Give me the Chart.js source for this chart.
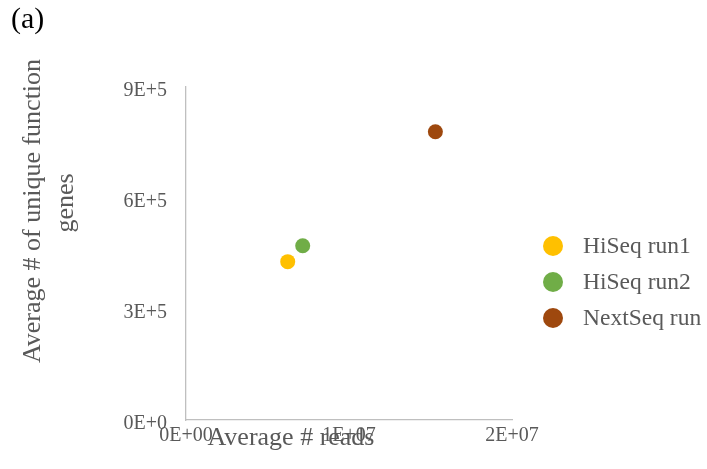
<!DOCTYPE html>
<html>
<head>
<meta charset="utf-8">
<script src="https://cdn.jsdelivr.net/npm/chart.js@4/dist/chart.umd.min.js"></script>
<style>
  html, body { margin: 0; padding: 0; background: #ffffff; }
  #wrap { width: 707px; height: 469px; position: relative; }
</style>
</head>
<body>
<div id="wrap"><canvas id="c" width="707" height="469"></canvas></div>
<script>
// Sequencing runs and their averages (reads, unique function genes)
const seriesNames = ['HiSeq run1', 'HiSeq run2', 'NextSeq run'];
const seriesColors = ['#FFC000', '#70AD47', '#9E480E'];
const avgReads = [6.24e6, 7.16e6, 1.53e7];
const avgUniqueGenes = [4.28e5, 4.71e5, 7.79e5];

// Axis tick values and their labels
const xTickValues = [0, 1e7, 2e7];
const xTickLabels = ['0E+00', '1E+07', '2E+07'];
const yTickValues = [0, 3e5, 6e5, 9e5];
const yTickLabels = ['0E+0', '3E+5', '6E+5', '9E+5'];

const xTitle = 'Average # reads';
const yTitleLines = ['Average # of unique function', 'genes'];
const panelLabel = '(a)';

const serif = "'Liberation Serif', 'Times New Roman', serif";
const textGray = '#595959';
const axisGray = '#BFBFBF';

const datasets = seriesNames.map((name, i) => ({
  label: name,
  data: [{ x: avgReads[i], y: avgUniqueGenes[i] }],
  backgroundColor: seriesColors[i],
  borderWidth: 0,
  pointRadius: 7.5,
  pointHoverRadius: 7.5
}));

// Draws panel label, axis titles and the legend on the right
const decorations = {
  id: 'decorations',
  afterDraw(chart) {
    const ctx = chart.ctx;
    ctx.save();

    ctx.fillStyle = '#000000';
    ctx.font = '30px ' + serif;
    ctx.textAlign = 'left';
    ctx.textBaseline = 'middle';
    ctx.fillText(panelLabel, 11, 20);

    ctx.fillStyle = textGray;
    ctx.font = '26px ' + serif;
    ctx.textAlign = 'center';
    ctx.fillText(xTitle, 291, 438);

    const yCenters = [211, 203];
    const xCenters = [33, 66];
    yTitleLines.forEach((line, i) => {
      ctx.save();
      ctx.translate(xCenters[i], yCenters[i]);
      ctx.rotate(-Math.PI / 2);
      ctx.fillText(line, 0, 0);
      ctx.restore();
    });

    // Legend
    ctx.font = '23.5px ' + serif;
    ctx.textAlign = 'left';
    const legendY = [246, 282, 318];
    chart.data.datasets.forEach((ds, i) => {
      ctx.beginPath();
      ctx.arc(553, legendY[i], 10, 0, Math.PI * 2);
      ctx.fillStyle = ds.backgroundColor;
      ctx.fill();
      ctx.fillStyle = textGray;
      ctx.fillText(ds.label, 583, legendY[i] + 1);
    });

    ctx.restore();
  }
};

new Chart(document.getElementById('c'), {
  type: 'scatter',
  data: { datasets },
  options: {
    responsive: false,
    animation: false,
    layout: { padding: { left: 116, right: 195, top: 87, bottom: 19 } },
    plugins: {
      legend: { display: false },
      tooltip: { enabled: false }
    },
    scales: {
      x: {
        type: 'linear',
        min: 0,
        max: 2e7,
        afterBuildTicks(scale) { scale.ticks = xTickValues.map(v => ({ value: v })); },
        afterFit(scale) { scale.height = 30; },
        ticks: {
          padding: 4,
          color: textGray,
          font: { family: serif, size: 20 },
          maxRotation: 0,
          callback: (v) => xTickLabels[xTickValues.indexOf(v)]
        },
        grid: { display: true, color: 'rgba(0,0,0,0)', drawTicks: false },
        border: { display: true, color: axisGray, width: 1.3 }
      },
      y: {
        type: 'linear',
        min: 0,
        max: 9e5,
        afterBuildTicks(scale) { scale.ticks = yTickValues.map(v => ({ value: v })); },
        afterFit(scale) { scale.width = 70; },
        ticks: {
          padding: 19,
          labelOffset: 4,
          color: textGray,
          font: { family: serif, size: 20 },
          callback: (v) => yTickLabels[yTickValues.indexOf(v)]
        },
        grid: { display: true, color: 'rgba(0,0,0,0)', drawTicks: false },
        border: { display: true, color: axisGray, width: 1.3 }
      }
    }
  },
  plugins: [decorations]
});
</script>
</body>
</html>
